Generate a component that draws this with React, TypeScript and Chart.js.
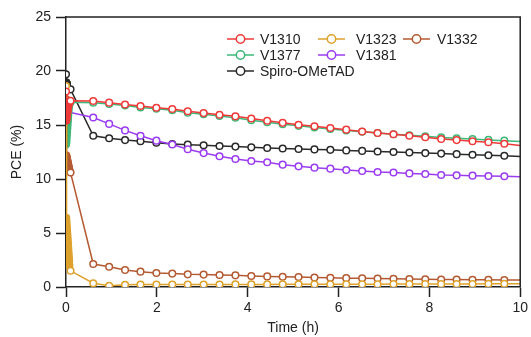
import React, { useEffect, useRef } from "react";
import { Chart, registerables } from "chart.js";

Chart.register(...registerables);

const timeH = [0, 0.005, 0.01, 0.015, 0.02, 0.025, 0.03, 0.035, 0.04, 0.045, 0.05, 0.055, 0.06, 0.065, 0.07, 0.075, 0.1,
  0.6, 0.95, 1.3, 1.64, 1.99, 2.34, 2.68, 3.03, 3.38, 3.73, 4.08, 4.43, 4.77, 5.12, 5.47, 5.82, 6.17, 6.52, 6.86, 7.21,
  7.56, 7.91, 8.26, 8.6, 8.95, 9.3, 9.65, 10.0];

const pceV1310 = [18.1, 15.4, 15.55, 15.7, 15.85, 16.0, 16.15, 16.3, 16.45, 16.6, 16.75, 16.85, 16.95, 17.05, 17.15, 17.2, 17.25,
  17.22, 17.07, 16.9, 16.76, 16.6, 16.48, 16.27, 16.1, 15.95, 15.8, 15.6, 15.4, 15.2, 15.03, 14.88, 14.72, 14.57, 14.4, 14.26, 14.14,
  14.0, 13.86, 13.7, 13.6, 13.5, 13.4, 13.27, 13.1];

const pceV1323 = [18.6, 6.4, 6.1, 5.8, 5.5, 5.2, 4.9, 4.6, 4.3, 4.0, 3.6, 3.3, 3.0, 2.7, 2.4, 2.0, 1.5,
  0.35, 0.12, 0.2, 0.22, 0.22, 0.22, 0.23, 0.23, 0.23, 0.24, 0.24, 0.24, 0.25, 0.25, 0.25, 0.25, 0.26, 0.26, 0.26, 0.27,
  0.27, 0.27, 0.28, 0.28, 0.28, 0.29, 0.3, 0.3];

const pceV1332 = [17.4, 12.2, 12.1, 12.0, 11.9, 11.8, 11.7, 11.6, 11.5, 11.4, 11.3, 11.2, 11.1, 11.0, 10.9, 10.8, 10.6,
  2.13, 1.88, 1.57, 1.42, 1.3, 1.24, 1.17, 1.15, 1.11, 1.08, 1.02, 0.98, 0.95, 0.92, 0.88, 0.85, 0.82, 0.8, 0.78, 0.76,
  0.74, 0.72, 0.7, 0.69, 0.67, 0.66, 0.65, 0.64];

const pceV1377 = [13.2, 13.3, 13.5, 13.8, 14.1, 14.4, 14.7, 15.0, 15.3, 15.6, 15.9, 16.2, 16.5, 16.7, 16.9, 17.0, 17.1,
  17.07, 16.94, 16.8, 16.62, 16.5, 16.36, 16.14, 16.0, 15.83, 15.68, 15.45, 15.25, 15.07, 14.92, 14.77, 14.63, 14.5, 14.37, 14.26, 14.15,
  14.05, 13.95, 13.85, 13.78, 13.7, 13.62, 13.55, 13.48];

const pceV1381 = [null, null, null, null, null, null, null, null, null, null, 16.2, null, null, null, null, null, null,
  15.7, 15.1, 14.5, 14.0, 13.55, 13.2, 12.75, 12.4, 12.1, 11.85, 11.67, 11.55, 11.33, 11.17, 11.05, 10.96, 10.83, 10.74, 10.65, 10.6,
  10.52, 10.46, 10.37, 10.34, 10.31, 10.28, 10.25, 10.21];

const pceSpiro = [19.7, 18.95, 18.9, 18.85, 18.8, null, null, null, null, null, null, null, null, null, null, null, 18.3,
  14.0, 13.77, 13.6, 13.5, 13.36, 13.24, 13.18, 13.12, 13.06, 13.0, 12.93, 12.87, 12.83, 12.78, 12.74, 12.7, 12.65, 12.6, 12.55, 12.5,
  12.45, 12.4, 12.35, 12.3, 12.25, 12.2, 12.15, 12.08];

const seriesNames = ["V1310", "V1323", "V1332", "V1377", "V1381", "Spiro-OMeTAD"];
const seriesValues = [pceV1310, pceV1323, pceV1332, pceV1377, pceV1381, pceSpiro];
const seriesColors = ["#ef3a3a", "#dda22c", "#b45a32", "#3cb878", "#9a3cf0", "#2a2a2a"];

const xTickValues = [0, 2, 4, 6, 8, 10];
const yTickValues = [0, 5, 10, 15, 20, 25];

const FONT = '"Liberation Sans", Arial, sans-serif';
const AXIS = "#222";

// legend slots: [symbolX, textX, rowY]
const legendSlots = [
  [227, 260, 39],
  [318, 356, 39],
  [403, 437, 39],
  [227, 260, 55],
  [318, 356, 55],
  [227, 260, 71],
];

const framePlugin = {
  id: "frame",
  afterDraw(chart: any) {
    const { ctx, chartArea } = chart;
    ctx.save();
    ctx.strokeStyle = AXIS;
    ctx.lineWidth = 1.5;
    ctx.beginPath();
    ctx.moveTo(chartArea.left, chartArea.top);
    ctx.lineTo(chartArea.right, chartArea.top);
    ctx.lineTo(chartArea.right, chartArea.bottom);
    ctx.stroke();
    ctx.restore();
  },
};

const legendPlugin = {
  id: "customLegend",
  afterDraw(chart: any) {
    const ctx = chart.ctx;
    ctx.save();
    ctx.font = `14px ${FONT}`;
    ctx.textBaseline = "middle";
    ctx.textAlign = "left";
    chart.data.datasets.forEach((ds: any, i: number) => {
      const [sx, tx, y] = legendSlots[i];
      ctx.strokeStyle = ds.borderColor;
      ctx.lineWidth = 1.5;
      ctx.beginPath();
      ctx.moveTo(sx, y);
      ctx.lineTo(sx + 27, y);
      ctx.stroke();
      ctx.beginPath();
      ctx.arc(sx + 13.5, y, 4.2, 0, Math.PI * 2);
      ctx.fillStyle = "#fff";
      ctx.fill();
      ctx.stroke();
      ctx.fillStyle = AXIS;
      ctx.fillText(ds.label, tx, y + 1);
    });
    ctx.restore();
  },
};

export default function App() {
  const canvasRef = useRef<HTMLCanvasElement | null>(null);

  useEffect(() => {
    if (!canvasRef.current) return;
    const lastIdx = timeH.length - 1;
    // dense scan points right after t = 0 overlap into a solid band
    const isDense = (t: number) => t > 0 && t < 0.08;
    const datasets = seriesNames.map((name, si) => ({
      label: name,
      data: timeH.map((t, i) => ({ x: t, y: seriesValues[si][i] })),
      borderColor: seriesColors[si],
      backgroundColor: "#ffffff",
      pointBackgroundColor: (c: any) => (isDense(timeH[c.dataIndex]) ? seriesColors[si] : "#ffffff"),
      pointBorderColor: seriesColors[si],
      borderWidth: 1.5,
      pointBorderWidth: 1.5,
      pointRadius: (c: any) => (c.dataIndex === lastIdx ? 0 : 3.3),
      pointHoverRadius: 3.3,
      spanGaps: true,
      tension: 0,
    }));

    const chart = new Chart(canvasRef.current, {
      type: "line",
      data: { datasets },
      options: {
        animation: false,
        responsive: true,
        maintainAspectRatio: false,
        layout: { padding: { left: 0, right: 10, top: 17, bottom: 0 } },
        plugins: { legend: { display: false }, tooltip: { enabled: false } },
        scales: {
          x: {
            type: "linear",
            min: 0,
            max: 10,
            afterFit: (s: any) => { s.height = 50; },
            afterBuildTicks: (s: any) => { s.ticks = xTickValues.map((v) => ({ value: v })); },
            ticks: { color: AXIS, font: { family: FONT, size: 14 }, padding: 3, maxRotation: 0 },
            grid: { display: true, drawOnChartArea: false, drawTicks: true, tickLength: 10, tickWidth: 1.5, tickColor: AXIS, color: AXIS },
            border: { display: true, color: AXIS, width: 1.5 },
            title: { display: true, text: "Time (h)", color: AXIS, font: { family: FONT, size: 14 }, padding: { top: 0, bottom: 0 } },
          },
          y: {
            type: "linear",
            min: 0,
            max: 25,
            afterFit: (s: any) => { s.width = 66; },
            afterBuildTicks: (s: any) => { s.ticks = yTickValues.map((v) => ({ value: v })); },
            ticks: { color: AXIS, font: { family: FONT, size: 14 }, padding: 5 },
            grid: { display: true, drawOnChartArea: false, drawTicks: true, tickLength: 10, tickWidth: 1.5, tickColor: AXIS, color: AXIS },
            border: { display: true, color: AXIS, width: 1.5 },
            title: { display: true, text: "PCE (%)", color: AXIS, font: { family: FONT, size: 14 }, padding: { top: 8.5, bottom: 0 } },
          },
        },
      },
      plugins: [framePlugin, legendPlugin],
    });
    return () => chart.destroy();
  }, []);

  return (
    <div style={{ position: "absolute", left: 0, top: 0, width: 531, height: 337, background: "#fff" }}>
      <canvas ref={canvasRef} />
    </div>
  );
}
